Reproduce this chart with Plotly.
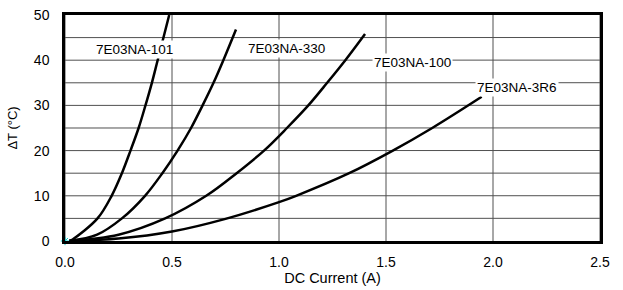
import plotly.graph_objects as go

# Data (DC current in A, temperature rise in °C)
i_101 = [0.02, 0.037, 0.152, 0.218, 0.266, 0.306, 0.344, 0.376, 0.406, 0.433, 0.487]
t_101 = [0.0, 0.4, 5.0, 10.0, 15.0, 20.0, 25.0, 30.0, 35.0, 40.0, 50.0]

i_330 = [0.02, 0.15, 0.266, 0.374, 0.455, 0.526, 0.589, 0.643, 0.694, 0.740, 0.799]
t_330 = [0.0, 1.4, 5.0, 10.0, 15.0, 20.0, 25.0, 30.0, 35.0, 40.0, 46.8]

i_100 = [0.02, 0.25, 0.468, 0.660, 0.802, 0.930, 1.037, 1.137, 1.225, 1.310, 1.402]
t_100 = [0.0, 1.4, 5.0, 10.0, 15.0, 20.0, 25.0, 30.0, 35.0, 40.0, 45.8]

i_3r6 = [0.02, 0.25, 0.5, 0.75, 1.0, 1.08, 1.328, 1.532, 1.716, 1.947]
t_3r6 = [0.0, 0.55, 2.1, 4.9, 8.6, 10.0, 15.0, 20.0, 25.0, 31.9]

series_names = ["7E03NA-101", "7E03NA-330", "7E03NA-100", "7E03NA-3R6"]
label_x = [0.327, 1.033, 1.623, 2.114]
label_y = [42.3, 42.5, 39.5, 34.0]

x_range = [0.0, 2.5]
y_range = [0, 50]
x_ticks = [0.0, 0.5, 1.0, 1.5, 2.0, 2.5]
x_tick_text = ["0.0", "0.5", "1.0", "1.5", "2.0", "2.5"]
y_ticks = [0, 10, 20, 30, 40, 50]
y_grid_step = 5

FONT = "Liberation Sans, Arial, sans-serif"
GRID = "#505050"

fig = go.Figure()

# vertical grid lines at the x ticks
vx, vy = [], []
for v in x_ticks:
    vx += [v, v, None]
    vy += [y_range[0], y_range[1], None]
fig.add_trace(go.Scatter(x=vx, y=vy, mode="lines", line=dict(color=GRID, width=1),
                         showlegend=False, hoverinfo="skip"))

# horizontal grid lines every 5 °C (a hair of slope keeps them from being a degenerate path)
tilt = 0.02
hx, hy = [], []
for k in range(y_range[0] + y_grid_step, y_range[1], y_grid_step):
    hx += [x_range[0], x_range[1], None]
    hy += [k, k + tilt, None]
fig.add_trace(go.Scatter(x=hx, y=hy, mode="lines", line=dict(color=GRID, width=1),
                         showlegend=False, hoverinfo="skip"))

for xs, ys, name in zip([i_101, i_330, i_100, i_3r6], [t_101, t_330, t_100, t_3r6], series_names):
    fig.add_trace(go.Scatter(x=xs, y=ys, mode="lines", name=name,
                             line=dict(color="black", width=2.5, shape="spline", smoothing=1.0),
                             showlegend=False))

# small cyan marker at origin
fig.add_trace(go.Scatter(x=[0], y=[0], mode="markers",
                         marker=dict(symbol="asterisk-open", size=7, color="#00d0d0",
                                     line=dict(color="#00d0d0", width=1)),
                         showlegend=False, cliponaxis=False))

for name, lx, ly in zip(series_names, label_x, label_y):
    fig.add_annotation(x=lx, y=ly, text=name, showarrow=False,
                       font=dict(family=FONT, size=13.5, color="black"),
                       bgcolor="white", borderpad=1)

fig.update_layout(
    width=623, height=290,
    margin=dict(l=65, r=23, t=15, b=49),
    paper_bgcolor="white", plot_bgcolor="rgba(0,0,0,0)",
    font=dict(family=FONT, size=14, color="black"),
    xaxis=dict(range=x_range, tickvals=x_ticks, ticktext=x_tick_text,
               showgrid=False,
               showline=True, mirror=True, linecolor="black", linewidth=2.5,
               ticks="outside", ticklen=6, tickcolor="rgba(0,0,0,0)",
               zeroline=False, automargin=False,
               tickfont=dict(family=FONT, size=14),
               title=dict(text="DC Current (A)", standoff=1,
                          font=dict(family=FONT, size=14.5))),
    yaxis=dict(range=y_range, tickvals=y_ticks,
               showgrid=False,
               showline=True, mirror=True, linecolor="black", linewidth=2.5,
               ticks="outside", ticklen=10, tickcolor="rgba(0,0,0,0)",
               zeroline=False, automargin=False,
               tickfont=dict(family=FONT, size=14),
               title=dict(text="ΔT (°C)", standoff=14,
                          font=dict(family=FONT, size=13))),
)

# remove the default 8px body margin of the page so the figure fills the window
fig.write_html("out.html", config={"displayModeBar": False},
               post_script="document.body.style.margin='0';")
